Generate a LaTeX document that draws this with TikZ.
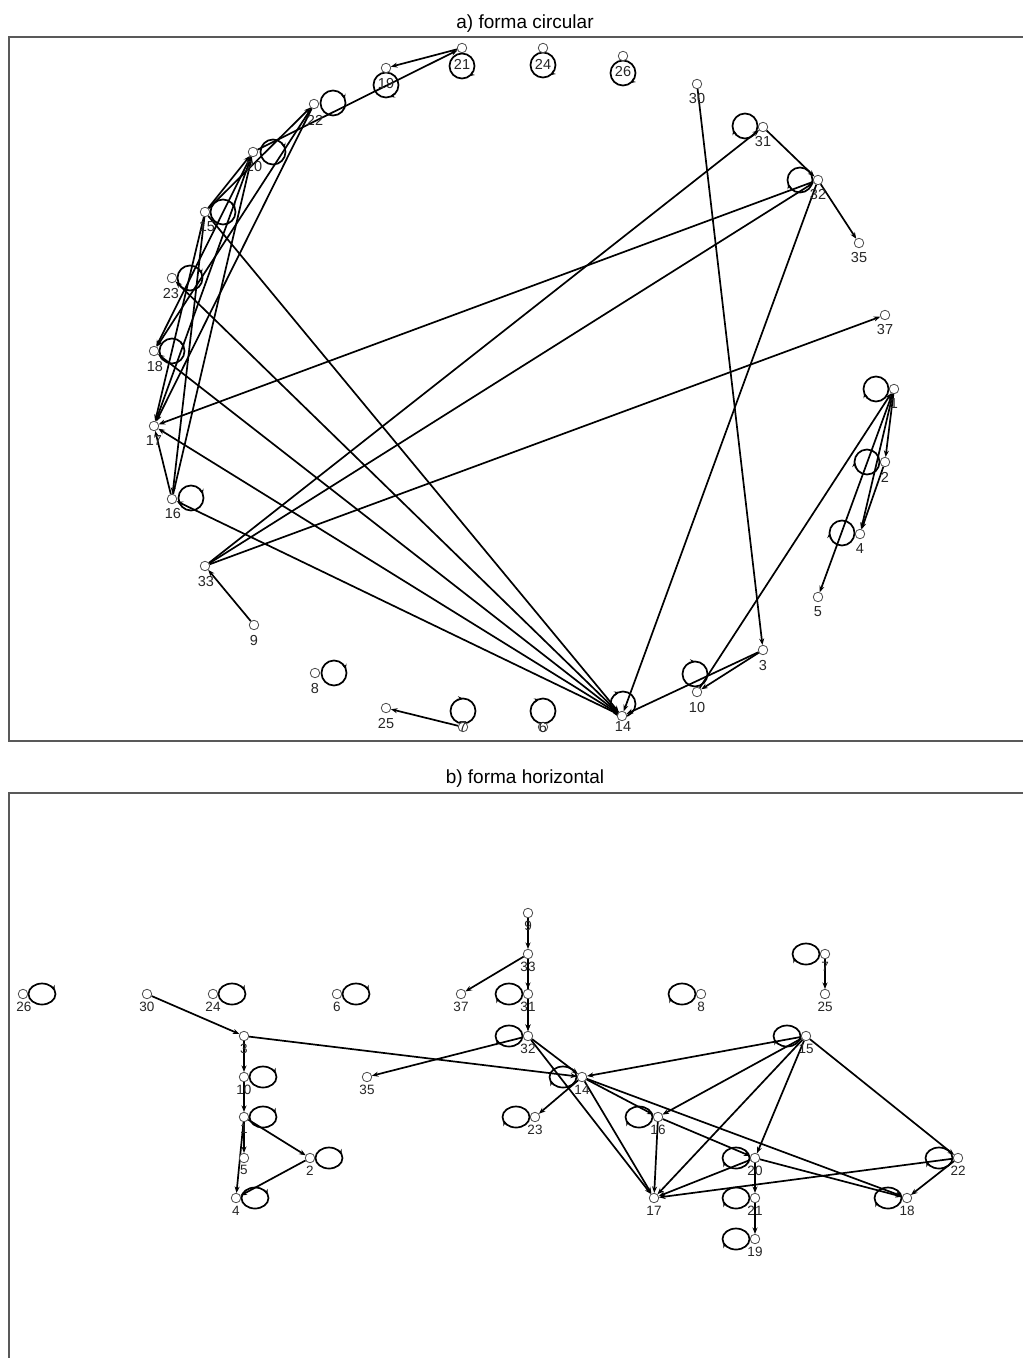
\documentclass[tikz,border=0pt]{standalone}
\usepackage{fontspec}
\setmainfont{Liberation Sans}
\usetikzlibrary{arrows.meta,calc,decorations.markings}
\pgfdeclarelayer{back}
\pgfdeclarelayer{bg}
\pgfsetlayers{back,bg,main}
\begin{document}
\begin{tikzpicture}[x=1pt,y=-1pt,
 vtx/.style={circle,draw=black!70,line width=0.8pt,fill=white,minimum size=9.5pt,inner sep=0pt,outer sep=0.3pt},
 lbla/.style={inner sep=0pt,font=\fontsize{14.5}{15}\selectfont,text=black!85},
 lblb/.style={inner sep=0pt,font=\fontsize{13.5}{14}\selectfont,text=black!85},
 edge/.style={line width=1.7pt,-{Stealth[length=6.5pt,width=5pt]}},
 loopst/.style={line width=1.7pt,postaction={decorate},decoration={markings,mark=at position #1 with {\arrow{Stealth[length=5pt,width=4.5pt]}}}},
 frame/.style={draw=black!65,line width=1.2pt},
 ttl/.style={font=\fontsize{19}{20}\selectfont,anchor=base,inner sep=0pt}]
\useasboundingbox (0,0) rectangle (1023,1358);
\begin{pgfonlayer}{back}
\fill[white] (0,0) rectangle (1023,1358);
\end{pgfonlayer}
% frames
\draw[frame] (1023,37) -- (9,37) -- (9,741) -- (1023,741);
\draw[frame] (1023,793) -- (9,793) -- (9,1358);
% titles
\node[ttl] (ta) at (525,28) {a) forma circular};
\node[ttl] (tb) at (525,783) {b) forma horizontal};
% ---------- panel a nodes ----------
\foreach \n/\x/\y in {1/894/389,2/885/462,3/763/650,4/860/534,5/818/597,6/543/727,7/463/727,8/315/673,9/254/625,10/697/692,14/622/716,15/205/212,16/172/499,17/154/426,18/154/351,19/386/68,20/253/152,21/462/48,22/314/104,23/172/278,24/543/48,25/386/708,26/623/56,30/697/84,31/763/127,32/818/180,33/205/566,35/859/243,37/885/315}
  \node[vtx] (a\n) at (\x,\y) {};
\foreach \n/\x/\y in {1/894/404,2/885/477,3/763/665,4/860/549,5/818/612,6/543/727,7/463/727,8/315/688,9/254/640,10/697/707,14/623/727,15/207/227,16/173/514,17/154/441,18/155/367,19/386/84,20/254/167,21/462/64,22/315/120,23/171/294,24/543/64,25/386/723,26/623/72,30/697/99,31/763/142,32/818/195,33/206/581,35/859/258,37/885/330}
  \node[lbla] (la\n) at (\x,\y) {\n};
% ---------- panel b nodes ----------
\foreach \n/\x/\y in {26/23/994,30/147/994,24/213/994,6/337/994,37/461/994,31/528/994,8/701/994,9/528/913,33/528/954,7/825/954,25/825/994,3/244/1036,32/528/1036,15/806/1036,10/244/1077,35/367/1077,14/582/1077,1/244/1117,23/535/1117,16/658/1117,5/244/1158,2/310/1158,20/755/1158,22/958/1158,4/236/1198,17/654/1198,21/755/1198,18/907/1198,19/755/1239}
  \node[vtx] (b\n) at (\x,\y) {};
\foreach \n/\x/\y in {26/24/1007,30/147/1007,24/213/1007,6/337/1007,37/461/1007,31/528/1007,8/701/1007,9/528/926,33/528/967,7/825/967,25/825/1007,3/244/1049,32/528/1049,15/806/1049,10/244/1090,35/367/1090,14/582/1090,1/244/1129,23/535/1130,16/658/1130,5/244/1170,2/310/1171,20/755/1171,22/958/1171,4/236/1211,17/654/1211,21/755/1211,18/907/1211,19/755/1252}
  \node[lblb] (lb\n) at (\x,\y) {\n};
\begin{pgfonlayer}{bg}
% edges, both panels
\foreach \s/\t in {1/2,1/4,1/5,2/4,3/10,3/14,10/1,30/3,9/33,33/31,33/32,33/37,31/32,32/35,32/14,32/17,14/16,14/17,14/18,14/23,15/14,15/16,15/17,15/20,15/22,16/17,16/20,20/18,20/17,20/21,21/19,22/17,22/18,7/25}{
  \draw[edge] (a\s) -- (a\t);
  \draw[edge] (b\s) -- (b\t);
}
% self loops panel a
\foreach \n/\dx/\dy/\p in {21/0/18/0.15,19/0/17/0.2,24/0/17/0.15,26/0/17/0.15,22/19/-1/0.95,31/-18/-1/0.45,20/20/0/0.95,32/-18/0/0.45,15/18/0/0.95,23/18/0/0.95,18/18/0/0.95,1/-18/0/0.45,2/-18/0/0.5,16/19/-1/0.95,4/-18/-1/0.5,8/19/0/0.95,10/-2/-18/0.75,7/0/-16/0.75,6/0/-16/0.7,14/1/-12/0.7}
  \draw[loopst=\p] ($(a\n)+(\dx,\dy)$) circle[radius=12.5];
% self loops panel b
\foreach \n/\dx/\p in {26/19/0.95,24/19/0.95,6/19/0.95,10/19/0.95,1/19/0.95,2/19/0.95,4/19/0.95,31/-19/0.45,32/-19/0.45,14/-19/0.45,23/-19/0.45,16/-19/0.45,20/-19/0.45,21/-19/0.45,19/-19/0.45,18/-19/0.45,22/-19/0.45,15/-19/0.45,8/-19/0.45,7/-19/0.45}
  \draw[loopst=\p] ($(b\n)+(\dx,0)$) ellipse[x radius=13.5,y radius=10.5];
\end{pgfonlayer}
\end{tikzpicture}
\end{document}
